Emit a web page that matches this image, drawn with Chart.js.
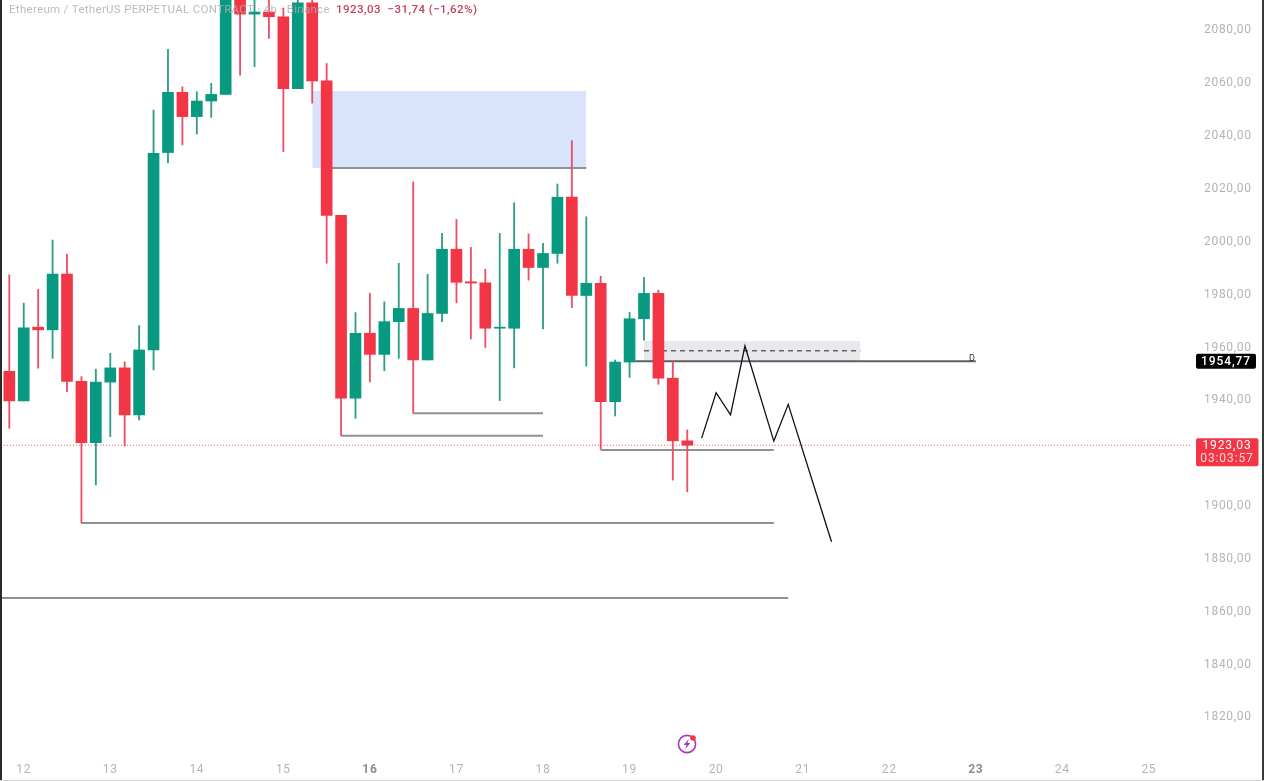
<!DOCTYPE html>
<html>
<head>
<meta charset="utf-8">
<title>Ethereum / TetherUS</title>
<script src="https://cdn.jsdelivr.net/npm/chart.js@4/dist/chart.umd.min.js"></script>
<style>
    html, body { margin: 0; padding: 0; background: #fff; overflow: hidden; }
    #wrap { position: relative; width: 1264px; height: 781px; }
    #edgeLeft { position: absolute; left: 0; top: 0; width: 2px; height: 781px; background: #2b2b2b; }
    #edgeRight { position: absolute; right: 0; top: 0; width: 2px; height: 781px; background: #3a3a3a; }
    #edgeBottom { position: absolute; left: 0; bottom: 0; width: 1264px; height: 1px; background: #d4d4d4; }
    #bolt { position: absolute; left: 676px; top: 733px; }
</style>
</head>
<body>
<div id="wrap">
    <canvas id="priceChart" width="1264" height="781"></canvas>
    <div id="edgeLeft"></div>
    <div id="edgeRight"></div>
    <div id="edgeBottom"></div>
    <svg id="bolt" width="22" height="22" viewBox="0 0 22 22">
        <circle cx="11" cy="11" r="8.6" fill="none" stroke="#a23bb8" stroke-width="1.6"/>
        <path d="M12.8 6 L7.6 12 L10.6 12 L9.2 16.2 L14.4 10 L11.4 10 Z" fill="#a23bb8"/>
        <circle cx="17" cy="5" r="2.8" fill="#f23645"/>
    </svg>
</div>
<script>
const opens = [1951.0, 1939.8, 1967.7, 1966.7, 1987.8, 1947.2, 1924.0, 1946.9, 1952.3, 1934.5, 1959.1, 2033.8,
    2056.6, 2047.4, 2053.3, 2055.8, 2104.0, 2086.2, 2087.0, 2085.2, 2058.0, 2090.5, 2060.9, 2010.0,
    1940.8, 1965.4, 1957.4, 1969.8, 1974.8, 1955.3, 1972.9, 1997.2, 1984.9, 1984.5, 1967.3, 1967.3,
    1997.2, 1990.3, 1995.6, 2016.9, 1979.7, 1984.3, 1939.5, 1954.5, 1970.9, 1980.5, 1948.4, 1924.7];
const highs = [1987.5, 1976.8, 1982.0, 2000.7, 1995.4, 1949.0, 1951.8, 1957.8, 1954.6, 1968.3, 2049.9, 2072.9,
    2058.7, 2056.8, 2060.0, 2110.0, 2108.0, 2097.0, 2094.0, 2088.5, 2096.0, 2094.0, 2067.5, 2010.0,
    1973.2, 1980.5, 1977.3, 1991.9, 2022.7, 1987.7, 2003.2, 2008.5, 1997.9, 1989.6, 2003.2, 2014.8,
    2003.0, 1999.4, 2021.9, 2038.3, 2009.5, 1987.0, 1955.3, 1973.3, 1986.6, 1981.7, 1954.6, 1928.8];
const lows = [1929.4, 1939.8, 1952.2, 1955.9, 1943.3, 1893.6, 1908.0, 1926.3, 1922.7, 1932.6, 1951.5, 2030.0,
    2036.7, 2040.8, 2047.1, 2055.8, 2063.1, 2066.3, 2077.0, 2034.1, 2058.0, 2052.5, 1991.9, 1926.6,
    1933.2, 1947.0, 1951.2, 1955.9, 1935.1, 1955.3, 1969.8, 1976.9, 1963.2, 1960.0, 1939.9, 1952.3,
    1985.5, 1967.0, 1991.9, 1975.1, 1953.0, 1921.5, 1934.1, 1948.7, 1962.8, 1946.1, 1909.8, 1905.4];
const closes = [1939.8, 1967.5, 1966.7, 1987.8, 1947.2, 1924.0, 1946.9, 1952.3, 1934.5, 1959.1, 2033.5, 2056.6,
    2047.4, 2053.3, 2055.8, 2104.0, 2086.2, 2087.0, 2085.2, 2058.0, 2090.5, 2060.9, 2010.0, 1940.8,
    1965.4, 1957.4, 1969.8, 1974.8, 1955.3, 1972.9, 1997.2, 1984.7, 1984.4, 1967.3, 1967.7, 1997.2,
    1990.3, 1995.6, 2016.9, 1979.7, 1984.3, 1939.5, 1954.5, 1970.9, 1980.5, 1948.4, 1924.7, 1923.03];

const dayLabels = ['12', '13', '14', '15', '16', '17', '18', '19', '20', '21', '22', '23', '24', '25'];
const dayIndex = [1, 7, 13, 19, 25, 31, 37, 43, 49, 55, 61, 67, 73, 79];
const boldDays = ['16', '23'];

const lastPrice = 1923.03;
const alertPrice = 1954.77;

// drawn levels: [from candle, to candle, price]
const levelLines = [
    [22, 40, 2028.0],
    [28, 37, 1935.1],
    [23, 37, 1926.6],
    [41, 53, 1921.2],
    [5, 53, 1893.6],
    [-1, 54, 1865.2]
];
const blueZone = [21, 40, 2057.1, 2028.0];
const greyZone = [44, 59, 1962.5, 1954.9];
const dashLevel = [44, 59, 1958.8];
const alertLine = [43.4, 67, alertPrice];
const pathX = [48, 49, 50, 51, 53, 54, 57];
const pathY = [1925.7, 1942.9, 1934.5, 1960.6, 1924.6, 1938.5, 1886.5];

const GREEN = '#089981';
const RED = '#f23645';

function candleColor(i, up, down) {
    return closes[i] >= opens[i] ? up : down;
}

function hLine(from, to, price, color, width, dash) {
    return {
        type: 'line',
        data: [{ x: from, y: price }, { x: to, y: price }],
        borderColor: color,
        borderWidth: width,
        borderDash: dash || [],
        pointRadius: 0,
        order: 2
    };
}

function zone(z, color) {
    return {
        type: 'line',
        data: [{ x: z[0], y: z[2] }, { x: z[1], y: z[2] }],
        borderWidth: 0,
        pointRadius: 0,
        backgroundColor: color,
        fill: { value: z[3] },
        order: 5
    };
}

function fmt(v) {
    return v.toFixed(2).replace('.', ',');
}

// chart.js leaves room for half a tick label at the ends, here the plot runs to the edge
function noPadding(s) {
    s.paddingLeft = s.paddingRight = s.paddingTop = s.paddingBottom = 0;
}

// header text, price tags and the small D on the alert line
const overlayPlugin = {
    id: 'overlay',
    beforeDraw(chart) {
        chart.ctx.letterSpacing = '0.7px';
    },
    afterDraw(chart) {
        const ctx = chart.ctx;
        const y = chart.scales.y;
        ctx.save();
        ctx.textBaseline = 'middle';
        ctx.letterSpacing = '0.3px';
        ctx.font = '11.5px Roboto';
        ctx.fillStyle = 'rgba(175,175,180,0.85)';
        ctx.fillText('Ethereum / TetherUS PERPETUAL CONTRACT · 4h · Binance', 9, 10);
        ctx.letterSpacing = '0.45px';
        ctx.font = '500 11.5px Roboto';
        ctx.fillStyle = '#c8405c';
        ctx.fillText('1923,03  −31,74 (−1,62%)', 336, 10);

        ctx.letterSpacing = '0px';
        ctx.font = '9px Roboto';
        ctx.fillStyle = '#333';
        ctx.fillText('D', 969, y.getPixelForValue(alertPrice) - 3);

        ctx.letterSpacing = '0.9px';
        ctx.textAlign = 'center';
        const ya = y.getPixelForValue(alertPrice);
        ctx.fillStyle = '#000';
        ctx.beginPath();
        ctx.roundRect(1196, ya - 7.5, 60, 15, 2);
        ctx.fill();
        ctx.fillStyle = '#fff';
        ctx.font = '500 12px Roboto';
        ctx.fillText(fmt(alertPrice), 1226, ya + 0.5);

        const yl = y.getPixelForValue(lastPrice);
        ctx.fillStyle = RED;
        ctx.beginPath();
        ctx.roundRect(1196, yl - 7, 62.5, 28, 2);
        ctx.fill();
        ctx.fillStyle = '#fff';
        ctx.font = '12px Roboto';
        ctx.fillText(fmt(lastPrice), 1227, yl + 0.5);
        ctx.fillStyle = 'rgba(255,255,255,0.8)';
        ctx.fillText('03:03:57', 1227, yl + 13.5);
        ctx.restore();
    }
};

const ctx = document.getElementById('priceChart').getContext('2d');
const myChart = new Chart(ctx, {
    data: {
        datasets: [
            {
                type: 'bar',
                label: 'bodies',
                data: opens.map((o, i) => ({ x: i, y: [o, closes[i]] })),
                backgroundColor: opens.map((o, i) => candleColor(i, GREEN, RED)),
                barThickness: 11,
                grouped: false,
                order: 0
            },
            {
                type: 'bar',
                label: 'wicks',
                data: lows.map((l, i) => ({ x: i, y: [l, highs[i]] })),
                backgroundColor: opens.map((o, i) => candleColor(i, '#2f9f88', '#ee5068')),
                barThickness: 1.2,
                grouped: false,
                order: 1
            },
            hLine(-1, 82, lastPrice, 'rgba(235,60,75,0.9)', 1, [1, 2]),
            ...levelLines.map(l => hLine(l[0], l[1], l[2], '#909094', 2)),
            hLine(alertLine[0], alertLine[1], alertLine[2], '#5f5f62', 2),
            hLine(dashLevel[0], dashLevel[1], dashLevel[2], '#66666a', 1.6, [5, 4]),
            zone(blueZone, '#d9e3fc'),
            zone(greyZone, '#e8e9ed'),
            {
                type: 'line',
                label: 'path',
                data: pathX.map((x, i) => ({ x: x, y: pathY[i] })),
                borderColor: '#111',
                borderWidth: 1.3,
                pointRadius: 0,
                tension: 0,
                order: 0
            }
        ]
    },
    options: {
        responsive: false,
        animation: false,
        events: [],
        layout: { padding: 0 },
        plugins: {
            legend: { display: false },
            tooltip: { enabled: false }
        },
        scales: {
            x: {
                type: 'linear',
                offset: false,
                min: -0.645,
                max: 82.2,
                grid: { display: false, drawTicks: false },
                border: { display: false },
                afterBuildTicks: s => { s.ticks = dayIndex.map(v => ({ value: v })); },
                afterFit: s => { s.height = 25; noPadding(s); },
                ticks: {
                    autoSkip: false,
                    maxRotation: 0,
                    padding: 7,
                    callback: v => dayLabels[dayIndex.indexOf(v)],
                    color: c => boldDays.includes(dayLabels[c.index]) ? '#8c8c8c' : '#b4b4b4',
                    font: c => ({
                        family: 'Roboto',
                        size: 12,
                        weight: boldDays.includes(dayLabels[c.index]) ? 'bold' : 'normal'
                    })
                }
            },
            y: {
                position: 'right',
                min: 1805.4,
                max: 2091.54,
                grid: { display: false, drawTicks: false },
                border: { display: false },
                afterFit: s => { s.width = 69; noPadding(s); },
                ticks: {
                    stepSize: 20,
                    includeBounds: false,
                    padding: 9,
                    color: '#b4b4b4',
                    font: { family: 'Roboto', size: 12 },
                    callback: v => fmt(v)
                }
            }
        }
    },
    plugins: [overlayPlugin]
});
</script>
</body>
</html>
